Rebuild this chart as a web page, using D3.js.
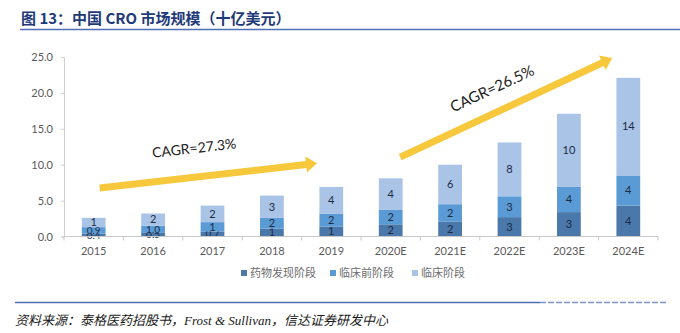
<!DOCTYPE html>
<html>
<head>
<meta charset="utf-8">
<script src="https://cdn.jsdelivr.net/npm/d3@7"></script>
<style>
  body { margin: 0; background: #fff; }
  svg { display: block; }
</style>
</head>
<body>
<div id="chart"></div>
<script>
// market size, billion USD
var years = ["2015", "2016", "2017", "2018", "2019", "2020E", "2021E", "2022E", "2023E", "2024E"];
var discovery = [0.4, 0.5, 0.7, 1.1, 1.4, 1.7, 2.1, 2.7, 3.4, 4.3];
var preclinical = [0.9, 1.0, 1.3, 1.5, 1.8, 2.0, 2.4, 2.9, 3.5, 4.2];
var clinical = [1.3, 1.7, 2.3, 3.1, 3.7, 4.4, 5.5, 7.5, 10.2, 13.6];
// decimals shown in each segment label
var discoveryDigits = [1, 1, 1, 0, 0, 0, 0, 0, 0, 0];
var preclinicalDigits = [1, 1, 0, 0, 0, 0, 0, 0, 0, 0];
var clinicalDigits = [0, 0, 0, 0, 0, 0, 0, 0, 0, 0];
var seriesNames = ["药物发现阶段", "临床前阶段", "临床阶段"];
var yTicks = [0, 5, 10, 15, 20, 25];
// growth arrows: [category index, value] start and tip
var cagrLabels = ["CAGR=27.3%", "CAGR=26.5%"];
var cagrFrom = [[0.1, 6.75], [5.16, 11.05]];
var cagrTo = [[3.76, 10.2], [8.73, 24.85]];

var W = 680, H = 333;
var colors = ["#4a78aa", "#5b9bd5", "#a9c4e6"];

var svg = d3.select("#chart").append("svg")
  .attr("width", W).attr("height", H);

// title
svg.append("text")
  .attr("x", 21).attr("y", 24)
  .attr("font-family", "'Noto Sans CJK SC', 'Liberation Serif', serif")
  .attr("font-weight", "bold")
  .attr("font-size", 15)
  .attr("fill", "#1f3a78")
  .text("图 13：中国 CRO 市场规模（十亿美元）");
svg.append("line")
  .attr("x1", 20).attr("x2", 680).attr("y1", 29.5).attr("y2", 29.5)
  .attr("stroke", "#4f6fb5").attr("stroke-width", 1.5);

var x = d3.scaleBand().domain(years).range([64, 658]).paddingInner(0.6).paddingOuter(0.3);
var xi = d3.scaleLinear().domain([-0.5, years.length - 0.5]).range([64, 658]);
var y = d3.scaleLinear().domain([0, 25]).range([236.5, 57]);

// y axis
var yAxis = svg.append("g")
  .attr("transform", "translate(64,0)")
  .call(d3.axisLeft(y).tickValues(yTicks).tickFormat(d3.format(".1f")).tickSize(3).tickPadding(8));
yAxis.select(".domain").attr("stroke", "#d0d0d0");
yAxis.selectAll(".tick line").attr("stroke", "#d0d0d0");
yAxis.selectAll("text").attr("font-family", "Lato, 'Open Sans', sans-serif")
  .attr("font-size", 11).attr("fill", "#595959");

// stacked bars
var rows = years.map(function (yr, i) {
  return { year: yr, d0: discovery[i], d1: preclinical[i], d2: clinical[i] };
});
var stack = d3.stack().keys(["d0", "d1", "d2"])(rows);
var digits = [discoveryDigits, preclinicalDigits, clinicalDigits];

stack.forEach(function (layer, k) {
  var g = svg.append("g");
  g.selectAll("rect").data(layer).enter().append("rect")
    .attr("x", function (d) { return x(d.data.year); })
    .attr("width", x.bandwidth())
    .attr("y", function (d) { return y(d[1]); })
    .attr("height", function (d) { return y(d[0]) - y(d[1]); })
    .attr("fill", colors[k]);
  g.selectAll("text").data(layer).enter().append("text")
    .attr("x", function (d) { return x(d.data.year) + x.bandwidth() / 2; })
    .attr("y", function (d) { return (y(d[0]) + y(d[1])) / 2; })
    .attr("dy", "0.35em")
    .attr("text-anchor", "middle")
    .attr("font-family", "Lato, 'Open Sans', sans-serif")
    .attr("font-size", function (d) { return (d[1] - d[0]) < 1.05 ? 10 : 11; })
    .attr("fill", "#1d2b45")
    .text(function (d, i) { return (d[1] - d[0]).toFixed(digits[k][i]); });
});

// x axis
var xAxisG = svg.append("g");
xAxisG.append("line")
  .attr("x1", 64).attr("x2", 658).attr("y1", y(0)).attr("y2", y(0))
  .attr("stroke", "#c8c8c8");
xAxisG.selectAll("line.tk").data(d3.range(years.length + 1)).enter().append("line")
  .attr("class", "tk")
  .attr("x1", function (i) { return xi(i - 0.5); })
  .attr("x2", function (i) { return xi(i - 0.5); })
  .attr("y1", y(0)).attr("y2", y(0) + 4)
  .attr("stroke", "#c8c8c8");
xAxisG.selectAll("text").data(years).enter().append("text")
  .attr("x", function (d) { return x(d) + x.bandwidth() / 2; })
  .attr("y", 255)
  .attr("text-anchor", "middle")
  .attr("font-family", "Lato, 'Open Sans', sans-serif")
  .attr("font-size", 11)
  .attr("fill", "#595959")
  .text(function (d) { return d; });

// CAGR arrows
var labelAt = [0.45, 0.48];
var labelLift = [-24, -18];
cagrLabels.forEach(function (lab, k) {
  var x0 = xi(cagrFrom[k][0]), y0 = y(cagrFrom[k][1]);
  var x1 = xi(cagrTo[k][0]), y1 = y(cagrTo[k][1]);
  var deg = Math.atan2(y1 - y0, x1 - x0) * 180 / Math.PI;
  var len = Math.hypot(x1 - x0, y1 - y0);
  var g = svg.append("g")
    .attr("transform", "translate(" + x0 + "," + y0 + ") rotate(" + deg + ")");
  g.append("path")
    .attr("d", "M0,-3.5 L" + (len - 11) + ",-3.5 L" + (len - 11) + ",-8 L" + len + ",0 L" +
      (len - 11) + ",8 L" + (len - 11) + ",3.5 L0,3.5 Z")
    .attr("fill", "#f8c83c");
  g.append("text")
    .attr("x", len * labelAt[k])
    .attr("y", labelLift[k])
    .attr("text-anchor", "middle")
    .attr("font-family", "Lato, 'Open Sans', sans-serif")
    .attr("font-size", k === 0 ? 14 : 15)
    .attr("fill", "#222")
    .text(lab);
});

// legend
var legendX = [241, 330, 412];
var leg = svg.append("g");
seriesNames.forEach(function (name, k) {
  leg.append("rect")
    .attr("x", legendX[k]).attr("y", 270)
    .attr("width", 6).attr("height", 6)
    .attr("fill", colors[k]);
  leg.append("text")
    .attr("x", legendX[k] + 9).attr("y", 277)
    .attr("font-family", "'Noto Sans CJK SC', sans-serif")
    .attr("font-size", 11)
    .attr("fill", "#6b6b6b")
    .text(name);
});

// source line
svg.append("line")
  .attr("x1", 15).attr("x2", 540).attr("y1", 302.5).attr("y2", 302.5)
  .attr("stroke", "#4f6fb5").attr("stroke-width", 1.5);
svg.append("line")
  .attr("x1", 540).attr("x2", 667).attr("y1", 302.5).attr("y2", 302.5)
  .attr("stroke", "#7d93c8").attr("stroke-width", 1.5)
  .attr("stroke-dasharray", "6,2");
svg.append("text")
  .attr("x", 15).attr("y", 325)
  .attr("font-family", "'Liberation Serif', 'Noto Sans CJK SC', serif")
  .attr("font-style", "italic")
  .attr("font-size", 13)
  .attr("fill", "#1a1a1a")
  .text("资料来源：泰格医药招股书，Frost & Sullivan，信达证券研发中心");
</script>
</body>
</html>
